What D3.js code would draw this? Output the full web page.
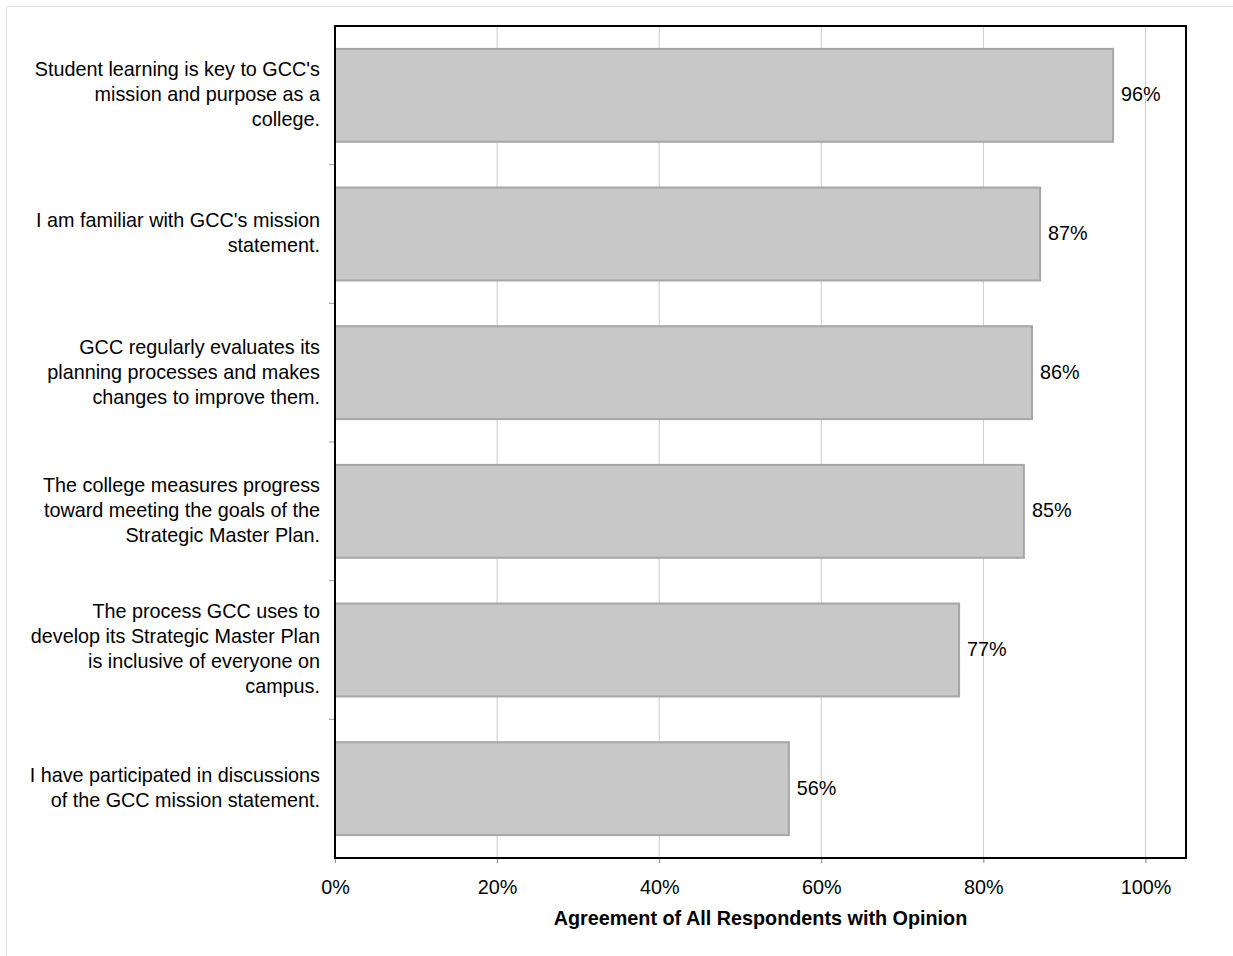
<!DOCTYPE html>
<html>
<head>
<meta charset="utf-8">
<script src="https://cdn.jsdelivr.net/npm/d3@7"></script>
<style>
  body { margin: 0; background: #fff; }
  svg { display: block; font-family: "Liberation Sans", Arial, sans-serif; }
</style>
</head>
<body>
<div id="chart"></div>
<script>
const statements = [
  ["Student learning is key to GCC's", "mission and purpose as a", "college."],
  ["I am familiar with GCC's mission", "statement."],
  ["GCC regularly evaluates its", "planning processes and makes", "changes to improve them."],
  ["The college measures progress", "toward meeting the goals of the", "Strategic Master Plan."],
  ["The process GCC uses to", "develop its Strategic Master Plan", "is inclusive of everyone on", "campus."],
  ["I have participated in discussions", "of the GCC mission statement."]
];
const agreement = [0.96, 0.87, 0.86, 0.85, 0.77, 0.56];
const tickValues = [0, 0.2, 0.4, 0.6, 0.8, 1.0];
const axisTitle = "Agreement of All Respondents with Opinion";

const width = 1233, height = 956;
const margin = { top: 26, right: 47, bottom: 98, left: 335 };
const plotW = width - margin.left - margin.right;
const plotH = height - margin.top - margin.bottom;
const fontSize = 19.8;

const svg = d3.select("#chart").append("svg")
  .attr("width", width)
  .attr("height", height);

// page border (top and left edges)
svg.append("path")
  .attr("d", `M6.5,${height}V6.5H${width}`)
  .attr("fill", "none")
  .attr("stroke", "#e0e0e0")
  .attr("stroke-width", 1);

const g = svg.append("g").attr("transform", `translate(${margin.left},${margin.top})`);

const x = d3.scaleLinear().domain([0, 1.05]).range([0, plotW]);
const y = d3.scaleBand().domain(d3.range(agreement.length)).range([0, plotH]).paddingInner(0.33).paddingOuter(0.165);

// gridlines
g.selectAll("line.grid")
  .data(tickValues.slice(1))
  .join("line")
  .attr("class", "grid")
  .attr("x1", (d) => x(d)).attr("x2", (d) => x(d))
  .attr("y1", 0).attr("y2", plotH + 5)
  .attr("stroke", "#cccccc")
  .attr("stroke-width", 1);

// bars
g.selectAll("rect.bar")
  .data(agreement)
  .join("rect")
  .attr("class", "bar")
  .attr("x", 0)
  .attr("y", (d, i) => y(i))
  .attr("width", (d) => x(d))
  .attr("height", y.bandwidth())
  .attr("fill", "#c8c8c8")
  .attr("stroke", "#a6a6a6")
  .attr("stroke-width", 2);

// value labels
g.selectAll("text.val")
  .data(agreement)
  .join("text")
  .attr("class", "val")
  .attr("x", (d) => x(d) + 8)
  .attr("y", (d, i) => y(i) + y.bandwidth() / 2 - 1)
  .attr("dy", "0.35em")
  .attr("font-size", fontSize)
  .attr("fill", "#000")
  .text((d) => Math.round(d * 100) + "%");

// category separators on left
const step = y.step();
g.selectAll("line.ytick")
  .data(d3.range(1, agreement.length))
  .join("line")
  .attr("class", "ytick")
  .attr("x1", -6).attr("x2", 0)
  .attr("y1", (d) => d * step).attr("y2", (d) => d * step)
  .attr("stroke", "#999")
  .attr("stroke-width", 1);

// category labels
const labels = g.selectAll("text.cat")
  .data(statements)
  .join("text")
  .attr("class", "cat")
  .attr("text-anchor", "end")
  .attr("font-size", fontSize)
  .attr("fill", "#000");
labels.selectAll("tspan")
  .data((d, i) => d.map((line, j) => ({ line, j, n: d.length, i })))
  .join("tspan")
  .attr("x", -15)
  .attr("y", (d) => y(d.i) + y.bandwidth() / 2 + (d.j - (d.n - 1) / 2) * 25 - 1)
  .attr("dy", "0.35em")
  .text((d) => d.line);

// x axis
const xAxis = g.append("g")
  .attr("transform", `translate(0,${plotH})`)
  .call(d3.axisBottom(x).tickValues(tickValues).tickFormat(d3.format(".0%")).tickSize(5).tickPadding(17));
xAxis.select(".domain").remove();
xAxis.selectAll(".tick line").attr("stroke", "#999");
xAxis.selectAll(".tick text")
  .attr("font-size", fontSize)
  .attr("font-family", "\"Liberation Sans\", Arial, sans-serif")
  .attr("fill", "#000");

// frame
g.append("rect")
  .attr("x", 0).attr("y", 0)
  .attr("width", plotW).attr("height", plotH)
  .attr("fill", "none")
  .attr("stroke", "#000")
  .attr("stroke-width", 2);

// axis title
g.append("text")
  .attr("x", plotW / 2)
  .attr("y", plotH + 67)
  .attr("text-anchor", "middle")
  .attr("font-size", fontSize)
  .attr("font-weight", "bold")
  .attr("fill", "#000")
  .text(axisTitle);
</script>
</body>
</html>
